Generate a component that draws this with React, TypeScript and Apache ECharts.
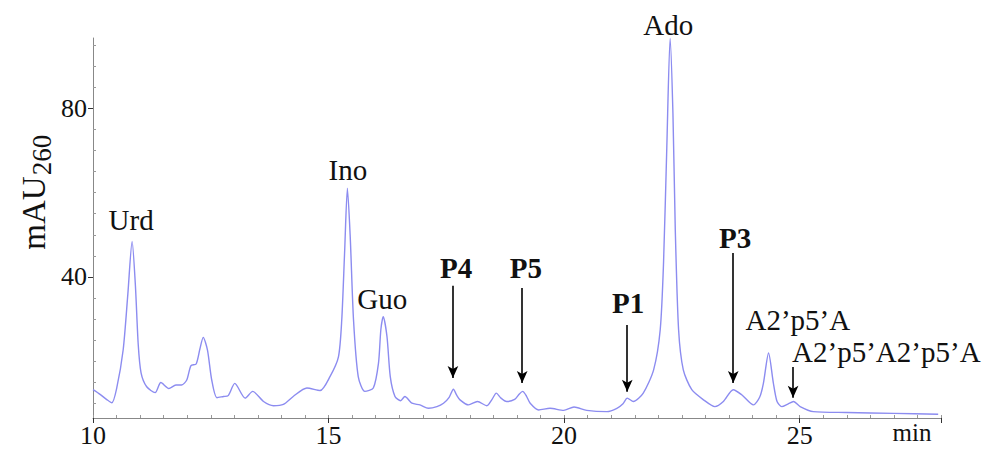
import React, { useEffect, useRef } from "react";
import * as echarts from "echarts";

// Chromatogram trace: retention time (min) and absorbance (mAU at 260 nm)
const times = [
  10.0, 10.15, 10.3, 10.4, 10.5, 10.64, 10.74, 10.83, 10.9, 10.96, 11.02, 11.14, 11.32, 11.44, 11.61, 11.76,
  11.88, 11.99, 12.08, 12.19, 12.27, 12.34, 12.43, 12.52, 12.63, 12.77, 12.87, 13.01, 13.23, 13.39, 13.62,
  13.83, 14.04, 14.25, 14.54, 14.82, 15.03, 15.21, 15.28, 15.34, 15.4, 15.46, 15.53, 15.63, 15.77, 15.95,
  16.06, 16.11, 16.16, 16.24, 16.31, 16.41, 16.53, 16.62, 16.77, 16.94, 17.12, 17.3, 17.44, 17.56, 17.65,
  17.72, 17.79, 17.97, 18.16, 18.36, 18.47, 18.56, 18.66, 18.78, 18.95, 19.05, 19.12, 19.2, 19.28, 19.46,
  19.7, 19.99, 20.21, 20.48, 20.91, 21.12, 21.25, 21.34, 21.47, 21.68, 21.9, 22.04, 22.11, 22.18, 22.25,
  22.31, 22.36, 22.43, 22.53, 22.71, 22.96, 23.2, 23.38, 23.59, 23.77, 24.02, 24.15, 24.23, 24.34, 24.44,
  24.52, 24.62, 24.75, 24.87, 25.01, 25.29, 26.0, 27.0, 27.94,
];
const absorbance = [
  13.3, 12.2, 10.9, 10.2, 13.5, 22.7, 36, 48.4, 38, 24, 17.3, 14.0, 12.6, 15.0, 13.6, 14.4,
  14.4, 15.6, 19.0, 19.4, 23, 25.7, 22.7, 15.6, 11.4, 11.7, 11.9, 14.8, 11.3, 12.9, 10.5,
  9.5, 9.8, 11.7, 13.7, 13.1, 16.4, 21.1, 29.8, 45.6, 61.0, 49.5, 29.8, 16.4, 12.9, 13.7,
  19.6, 27.5, 30.6, 25.9, 16.4, 11.7, 10.7, 11.7, 10.1, 9.7, 8.9, 9.3, 10.1, 11.5, 13.4,
  12.0, 10.9, 9.7, 10.5, 9.5, 11, 12.5, 11.3, 10.5, 11.0, 12.3, 12.9, 11.8, 10.1, 8.5,
  8.9, 8.4, 9.2, 8.4, 8.1, 8.9, 10.0, 11.3, 10.5, 12.5, 18.0, 27.5, 43.2, 70.8, 96.5,
  78.7, 51.1, 27.5, 18.0, 13.3, 10.9, 9.3, 10.5, 13.3, 12.1, 9.7, 11.5, 14.8, 22.0, 15.0,
  10.5, 9.3, 9.9, 10.5, 9.3, 8.1, 7.9, 7.7, 7.5,
];

// Peak names and where their labels sit (time, mAU)
const labelNames = ["Urd", "Ino", "Guo", "P4", "P5", "P1", "Ado", "P3", "A2’p5’A", "A2’p5’A2’p5’A"];
const labelTimes = [10.81, 15.41, 16.14, 17.71, 19.19, 21.36, 22.21, 23.63, 24.96, 26.84];
const labelValues = [53.5, 65.3, 34.8, 42.1, 42.1, 33.8, 99.6, 49.2, 29.8, 22.2];
const labelBold = [false, false, false, true, true, true, false, true, false, false];

// Arrows: time, start and end absorbance
const arrowTimes = [17.64, 19.11, 21.34, 23.59, 24.86];
const arrowTops = [37.9, 37.4, 28.6, 45.7, 18.7];
const arrowBottoms = [16.1, 14.9, 12.8, 14.9, 11.4];

// Axis ticks
const yLabelValues = [40, 80];
const yMinorValues = [10, 15, 20, 25, 30, 35, 45, 50, 55, 60, 65, 70, 75, 85, 90, 95];

const FONT = "'Liberation Serif', 'Times New Roman', serif";

export default function App() {
  const ref = useRef<HTMLDivElement>(null);
  useEffect(() => {
    if (!ref.current) return;
    const chart = echarts.init(ref.current, undefined, { renderer: "svg" });
    const data = times.map((t, i) => [t, absorbance[i]]);
    const yMin = 6.6;
    const yMax = 96.6;
    const staticGraphics: any[] = [
      {
        type: "text",
        x: 34,
        y: 213,
        rotation: Math.PI / 2,
        style: {
          text: "mAU",
          fill: "#111",
          font: `33px ${FONT}`,
          textAlign: "center",
          textVerticalAlign: "middle",
        },
      },
      {
        type: "text",
        x: 42,
        y: 155,
        rotation: Math.PI / 2,
        style: {
          text: "260",
          fill: "#111",
          font: `27px ${FONT}`,
          textAlign: "center",
          textVerticalAlign: "middle",
        },
      },
      {
        type: "text",
        x: 912,
        y: 432,
        style: {
          text: "min",
          fill: "#111",
          font: `25px ${FONT}`,
          textAlign: "center",
          textVerticalAlign: "middle",
        },
      },
    ];
    chart.setOption({
      animation: false,
      backgroundColor: "#ffffff",
      grid: { left: 93, right: 59, top: 38, bottom: 37 },
      xAxis: [
        {
          type: "value",
          min: 10,
          max: 28,
          interval: 5,
          axisLine: { lineStyle: { color: "#888888", width: 1 } },
          axisTick: { show: true, inside: false, length: 5, lineStyle: { color: "#333" } },
          axisLabel: {
            color: "#111",
            fontFamily: FONT,
            fontSize: 26,
            margin: 4,
            formatter: (v: number) => (v <= 25 ? String(v) : ""),
          },
          splitLine: { show: false },
        },
        {
          type: "value",
          position: "bottom",
          min: 10,
          max: 28,
          interval: 0.5,
          axisLine: { show: false },
          axisTick: { show: true, inside: true, length: 3, lineStyle: { color: "#999" } },
          axisLabel: { show: false },
          splitLine: { show: false },
        },
      ],
      yAxis: [
        {
          type: "value",
          min: yMin,
          max: yMax,
          axisLine: { show: true, lineStyle: { color: "#888888", width: 1 } },
          axisTick: { show: true, inside: false, length: 5, customValues: yLabelValues, lineStyle: { color: "#333" } },
          axisLabel: {
            customValues: yLabelValues,
            color: "#111",
            fontFamily: FONT,
            fontSize: 26,
            margin: 6,
          },
          splitLine: { show: false },
        },
        {
          type: "value",
          position: "left",
          min: yMin,
          max: yMax,
          axisLine: { show: false },
          axisTick: { show: true, inside: true, length: 3, customValues: yMinorValues, lineStyle: { color: "#999" } },
          axisLabel: { show: false },
          splitLine: { show: false },
        },
      ],
      series: [
        {
          type: "line",
          xAxisIndex: 0,
          yAxisIndex: 0,
          data,
          showSymbol: false,
          symbol: "none",
          smooth: 0.25,
          clip: false,
          lineStyle: { color: "#8c8cf0", width: 1.4 },
          markLine: {
            silent: true,
            symbol: ["none", "arrow"],
            symbolSize: [8, 12],
            label: { show: false },
            lineStyle: { color: "#000", width: 1.6, type: "solid" },
            data: arrowTimes.map((t, i) => [
              { coord: [t, arrowTops[i]] },
              { coord: [t, arrowBottoms[i]] },
            ]),
          },
        },
      ],
      graphic: staticGraphics,
    });
    // Peak labels placed in data space, converted to pixels (some sit above the plot area)
    const labelGraphics = labelNames.map((n, i) => {
      const p = chart.convertToPixel({ xAxisIndex: 0, yAxisIndex: 0 }, [labelTimes[i], labelValues[i]]) as number[];
      return {
        type: "text",
        x: p[0],
        y: p[1],
        style: {
          text: n,
          fill: "#111",
          font: `${labelBold[i] ? "bold " : ""}29px ${FONT}`,
          textAlign: "center",
          textVerticalAlign: "middle",
        },
      };
    });
    chart.setOption({ graphic: [...staticGraphics, ...labelGraphics] });
    return () => chart.dispose();
  }, []);
  return (
    <div
      ref={ref}
      style={{ position: "absolute", left: 0, top: 0, width: 1000, height: 455, background: "#fff" }}
    />
  );
}
